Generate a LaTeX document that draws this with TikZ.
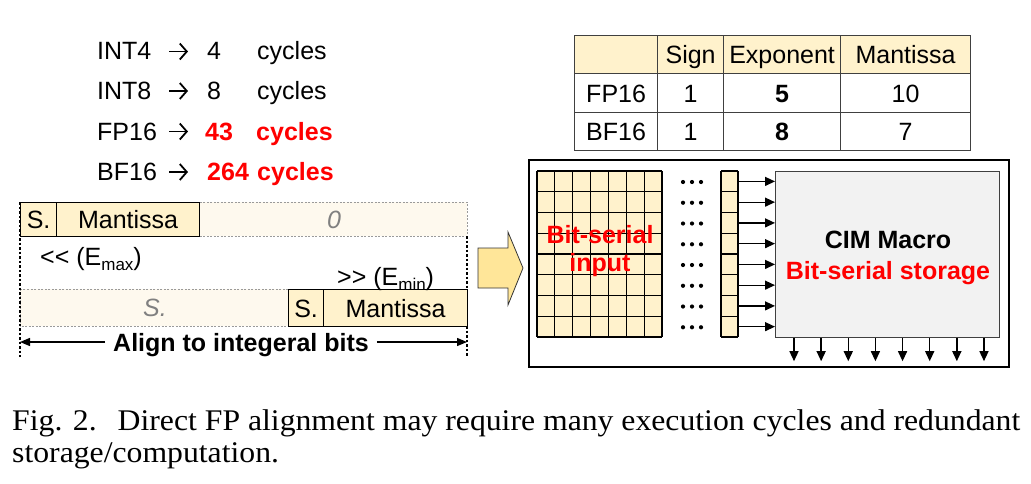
\documentclass[tikz,border=0pt]{standalone}
\usepackage{fontspec}
\setmainfont{Liberation Sans}
\newfontfamily\capfont{Liberation Serif}
\usetikzlibrary{arrows.meta}
\definecolor{beige}{HTML}{FFF2CC}
\definecolor{pale}{HTML}{FEF9EE}
\definecolor{cimgray}{HTML}{F2F2F2}
\definecolor{arrowyel}{HTML}{FFE699}
\definecolor{txtred}{HTML}{FF0000}
\definecolor{dashgray}{HTML}{9A9A9A}
\definecolor{framegray}{HTML}{404040}
\tikzset{
  big/.style={font=\fontsize{25}{30}\selectfont},
  txt/.style={big, inner sep=0pt, anchor=base west},
  capc/.style={big, inner sep=0pt, text height=18pt, text depth=0pt},
  tcell/.style={draw=framegray, line width=1.2pt, capc, anchor=north west},
  solidcell/.style={draw=black, line width=1.2pt, fill=beige, capc, anchor=north west},
  palebar/.style={draw=dashgray, dash pattern=on 2pt off 1.5pt, line width=1pt, fill=pale},
  vdash/.style={draw=black, dash pattern=on 2.5pt off 2pt, line width=1.3pt},
  arr/.style={line width=1.3pt, -{Triangle[length=10pt,width=9pt]}},
  listarr/.style={line width=1.8pt, -{Straight Barb[length=7pt,width=16pt]}},
  gridline/.style={draw=black, line width=1.2pt},
  redb/.style={big, font=\fontsize{25}{30}\selectfont\bfseries, text=txtred, inner sep=0pt},
  capt/.style={inner sep=0pt, anchor=base west, font=\capfont\fontsize{30}{32}\selectfont, xscale=1.057},
}
\begin{document}
\begin{tikzpicture}[x=1pt,y=-1pt]
\useasboundingbox (0,0) rectangle (1031,483);
% ---- cycle list ----
\node[txt] (l1a) at (97,59) {INT4};
\node[txt] (l1c) at (207,59) {4};
\node[txt] (l1d) at (257,59) {cycles};
\node[txt] (l2a) at (97,99) {INT8};
\node[txt] (l2c) at (207,99) {8};
\node[txt] (l2d) at (257,99) {cycles};
\node[txt] (l3a) at (97,140) {FP16};
\node[txt, text=txtred, font=\fontsize{25}{30}\selectfont\bfseries] (l3c) at (205,140) {43};
\node[txt, text=txtred, font=\fontsize{25}{30}\selectfont\bfseries] (l3d) at (256,140) {cycles};
\node[txt] (l4a) at (97,180) {BF16};
\node[txt, text=txtred, font=\fontsize{25}{30}\selectfont\bfseries] (l4c) at (207,180) {264};
\node[txt, text=txtred, font=\fontsize{25}{30}\selectfont\bfseries] (l4d) at (257,180) {cycles};
\foreach \yy/\k in {51.5/1,91/2,131.5/3,172/4}{
  \coordinate (as\k) at (169,\yy);
  \coordinate (ae\k) at (188,\yy);
  \draw[listarr] (as\k) -- (ae\k);
}
% ---- table ----
\node[tcell, fill=beige, minimum width=83pt, minimum height=38pt] (h0) at (574,35) {};
\node[tcell, fill=beige, minimum width=66pt, minimum height=38pt] (h1) at (657,35) {Sign};
\node[tcell, fill=beige, minimum width=117pt, minimum height=38pt] (h2) at (723,35) {Exponent};
\node[tcell, fill=beige, minimum width=130pt, minimum height=38pt] (h3) at (840,35) {Mantissa};
\node[tcell, minimum width=83pt, minimum height=39pt] (r10) at (574,73) {FP16};
\node[tcell, minimum width=66pt, minimum height=39pt] (r11) at (657,73) {1};
\node[tcell, minimum width=117pt, minimum height=39pt, font=\fontsize{25}{30}\selectfont\bfseries] (r12) at (723,73) {5};
\node[tcell, minimum width=130pt, minimum height=39pt] (r13) at (840,73) {10};
\node[tcell, minimum width=83pt, minimum height=38pt] (r20) at (574,112) {BF16};
\node[tcell, minimum width=66pt, minimum height=38pt] (r21) at (657,112) {1};
\node[tcell, minimum width=117pt, minimum height=38pt, font=\fontsize{25}{30}\selectfont\bfseries] (r22) at (723,112) {8};
\node[tcell, minimum width=130pt, minimum height=38pt] (r23) at (840,112) {7};
% ---- alignment bars ----
\coordinate (lt) at (20,202);
\coordinate (lb) at (20,357);
\coordinate (rt) at (467,236);
\coordinate (rm) at (467,289);
\coordinate (rn) at (467,326);
\coordinate (rb) at (467,357);
\path[palebar] (20,202) rectangle (467,236);
\node[txt, anchor=center, text=gray, font=\fontsize{25}{30}\selectfont\itshape, text height=18pt, text depth=0pt] (zero) at (334,219) {0};
\node[solidcell, minimum width=36pt, minimum height=34pt] (s1) at (20,202) {S.};
\node[solidcell, minimum width=143pt, minimum height=34pt] (m1) at (56,202) {Mantissa};
\path[palebar] (20,289) rectangle (467,326);
\node[txt, anchor=center, text=gray, font=\fontsize{25}{30}\selectfont\itshape, text height=18pt, text depth=0pt] (sgr) at (155,307) {S.};
\node[solidcell, minimum width=35pt, minimum height=37pt] (s2) at (288,289) {S.};
\node[solidcell, minimum width=144pt, minimum height=37pt] (m2) at (323,289) {Mantissa};
\draw[vdash] (lt) -- (lb);
\draw[vdash] (rt) -- (rm);
\draw[vdash] (rn) -- (rb);
\node[txt] (emax) at (40,265) {<{}< (E\raisebox{-0.22em}{\fontsize{17}{17}\selectfont max})};
\node[txt] (emin) at (337,285) {>{}> (E\raisebox{-0.22em}{\fontsize{17}{17}\selectfont min})};
\coordinate (al) at (20,342);
\coordinate (ar) at (467,342);
\node[capc, font=\fontsize{25}{30}\selectfont\bfseries, inner xsep=8pt] (align) at (241,342) {Align to integeral bits};
\draw[line width=1.3pt, -{Triangle[length=10pt,width=8pt]}] (align.west) -- (al);
\draw[line width=1.3pt, -{Triangle[length=10pt,width=8pt]}] (align.east) -- (ar);
% ---- block arrow ----
\draw[fill=arrowyel, draw=black!80, line width=0.8pt] (478,248) -- (508,248) -- (508,232) -- (523,268) -- (508,305) -- (508,288) -- (478,288) -- cycle;
% ---- right frame ----
\draw[line width=2pt] (529,160) rectangle (1009,367);
% input grid
\fill[beige] (537,171) rectangle (662,337);
\foreach \c in {0,...,7}{
  \draw[gridline] ({537+17.857*\c},171) -- ({537+17.857*\c},337);
}
\foreach \r in {0,...,8}{
  \draw[gridline] (537,{171+20.75*\r}) -- (662,{171+20.75*\r});
}
\node[redb] (bsi1) at (600,235) {Bit-serial};
\node[redb] (bsi2) at (600,265) {input};
\foreach \r in {0,...,7}{
  \fill (683,{182+20.75*\r}) circle (2.1pt) (692,{182+20.75*\r}) circle (2.1pt) (701,{182+20.75*\r}) circle (2.1pt);
}
\node[draw=framegray, line width=1.2pt, fill=cimgray, minimum width=224pt, minimum height=166pt, inner sep=0pt, anchor=north west] (cim) at (775,171) {};
% input column
\fill[beige] (721,171) rectangle (738,337);
\draw[gridline] (721,171) -- (721,337);
\draw[gridline] (738,171) -- (738,337);
\foreach \r in {0,...,8}{
  \draw[gridline] (721,{171+20.75*\r}) -- (738,{171+20.75*\r});
}
\foreach \r in {0,...,7}{
  \coordinate (c\r) at (738,{181.4+20.75*\r});
  \draw[arr] (c\r) -- (c\r -| cim.west);
}
\node[capc, font=\fontsize{25}{30}\selectfont\bfseries] (cimt) at (888,239) {CIM Macro};
\node[capc, font=\fontsize{25}{30}\selectfont\bfseries, text=txtred] (cims) at (888,270) {Bit-serial storage};
\foreach \i in {0,...,7}{
  \draw[arr] ([xshift={19+27.14*\i}]cim.south west) -- ++(0,23);
}
% ---- caption ----
\node[capt] (cap1) at (12,430) {Fig. 2.\hspace{0.66em}Direct FP alignment may require many execution cycles and redundant};
\node[capt] (cap2) at (12,462) {storage/computation.};
\end{tikzpicture}
\end{document}
